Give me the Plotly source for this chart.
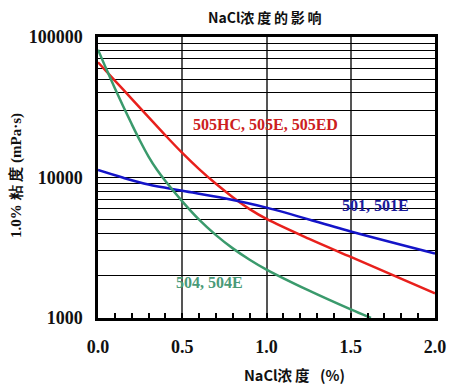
import plotly.graph_objects as go

# ---- data ----
x_505 = [0, 0.1, 0.2, 0.3, 0.4, 0.5, 0.6, 0.7, 0.8, 0.9, 1.0, 1.25, 1.5, 1.75, 2.0]
y_505 = [66100, 49000, 36300, 26900, 19950, 14960, 11480, 9020, 7240, 5960, 5070, 3670, 2720, 2020, 1500]

x_501 = [0, 0.15, 0.3, 0.5, 0.75, 1.0, 1.5, 2.0]
y_501 = [11300, 9950, 8910, 8040, 7110, 6100, 4130, 2880]

x_504 = [0, 0.05, 0.1, 0.15, 0.2, 0.25, 0.3, 0.35, 0.4, 0.5, 0.6, 0.7, 0.8, 0.9, 1.0, 1.25, 1.5, 1.62]
y_504 = [81300, 58900, 43200, 32000, 24000, 18200, 14100, 11350, 9440, 6760, 5010, 3890, 3130, 2600, 2210, 1570, 1150, 1000]

x_ticks = [0.0, 0.5, 1.0, 1.5, 2.0]
x_ticktext = ["0.0", "0.5", "1.0", "1.5", "2.0"]
y_major = [1000, 10000, 100000]

title_text = "NaCl浓\u2009度\u2009的\u2009影\u2009响"
x_title = "NaCl浓\u2009度\u2002 (%)"
y_title = "1.0% 粘 度 (mPa·s)"
label_505 = "505HC, 505E, 505ED"
label_501 = "501, 501E"
label_504 = "504, 504E"

# ---- layout geometry ----
W, H = 458, 388
L, R, T, B = 98, 19, 37, 70
pw, ph = W - L - R, H - T - B

def px_x(px):
    return (px - L) / pw

def px_y(py):
    return (H - B - py) / ph

y_all = [m * 10 ** e for e in (3, 4) for m in range(1, 10)] + [100000]
y_text = [(str(v) if v in y_major else "") for v in y_all]

SERIF = "Liberation Serif, Times New Roman, serif"
CJK = "Noto Sans CJK SC, sans-serif"

fig = go.Figure()
for xs, ys, col in [(x_505, y_505, "#e8201c"), (x_501, y_501, "#1414c8"), (x_504, y_504, "#3a9a6c")]:
    fig.add_trace(go.Scatter(x=xs, y=ys, mode="lines",
                             line=dict(color=col, width=2.5, shape="spline", smoothing=1.0),
                             hoverinfo="skip"))

# white boxes behind labels (between grid and traces)
boxes = [(187, 104, 348, 141), (333, 191, 420, 218), (167, 265, 252, 289)]
for (x0, y0, x1, y1) in boxes:
    fig.add_shape(type="rect", xref="paper", yref="paper",
                  x0=px_x(x0), x1=px_x(x1), y0=px_y(y1), y1=px_y(y0),
                  fillcolor="white", line=dict(width=0), layer="between")

def ann(text, cx, cy, color, size, family=SERIF, angle=0):
    fig.add_annotation(text="<b>" + text + "</b>", xref="paper", yref="paper", x=px_x(cx), y=px_y(cy),
                       xanchor="center", yanchor="middle", showarrow=False, textangle=angle,
                       font=dict(family=family, size=size, color=color))

ann(label_505, 267, 124, "#cc2020", 16)
ann(label_501, 379, 205, "#1a1a9a", 16)
ann(label_504, 211, 282, "#4a9a78", 16)
ann(title_text, 267, 17, "#111111", 14, family=CJK)
ann(x_title, 297, 374, "#111111", 14.5, family=CJK)
ann(y_title, 15, 175, "#111111", 15, family=SERIF, angle=-90)

fig.update_layout(
    width=W, height=H,
    margin=dict(l=L, r=R, t=T, b=B),
    paper_bgcolor="white", plot_bgcolor="white",
    showlegend=False,
)
fig.update_xaxes(
    range=[0, 2], tickvals=x_ticks, ticktext=x_ticktext,
    showgrid=True, gridcolor="#555555", gridwidth=1.5,
    showline=True, linecolor="black", linewidth=2.5, mirror=True,
    ticks="inside", ticklen=5, tickwidth=1.5, tickcolor="black",
    minor=dict(dtick=0.1, ticks="inside", ticklen=5, tickwidth=1.5, tickcolor="black", showgrid=False),
    tickfont=dict(family=SERIF, size=18, color="#111111", weight="bold"),
    ticklabelstandoff=11, zeroline=False,
)
fig.update_yaxes(
    type="log", range=[3, 5], tickvals=y_all, ticktext=y_text,
    showgrid=True, gridcolor="black", gridwidth=1.2,
    showline=True, linecolor="black", linewidth=2.5, mirror=True,
    ticks="", tickfont=dict(family=SERIF, size=18, color="#111111", weight="bold"),
    ticklabelstandoff=9, zeroline=False,
)

fig.write_html("out.html", config={"displayModeBar": False},
               post_script="document.body.style.margin='0px';document.body.style.padding='0px';")
